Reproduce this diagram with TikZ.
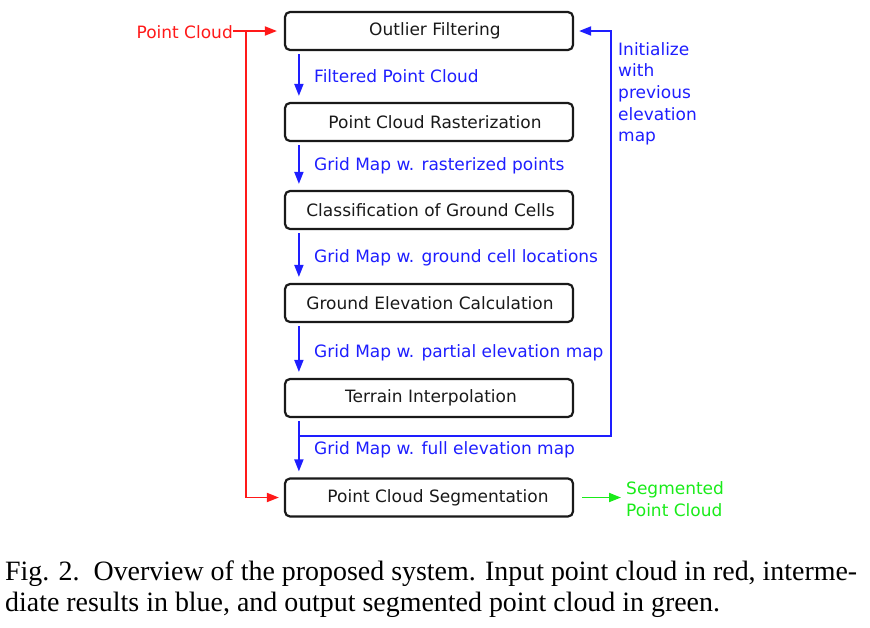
\documentclass[tikz,border=0pt]{standalone}
\usepackage{fontspec}
\setmainfont{DejaVu Sans}
\newfontfamily\capfont{Liberation Serif}
\usetikzlibrary{calc,arrows.meta}
\definecolor{cred}{RGB}{255,25,25}
\definecolor{cblue}{RGB}{30,30,255}
\definecolor{cgreen}{RGB}{25,235,25}
\definecolor{cbox}{RGB}{25,25,25}
\newcommand\capone{Fig. 2.\ \ Overview of the proposed system. Input point cloud in red, interme-}
\newcommand\captwo{diate results in blue, and output segmented point cloud in green.}
\newsavebox\capboxone
\newsavebox\capboxtwo
\AtBeginDocument{%
  \sbox\capboxone{\capfont\fontsize{28}{31}\selectfont\capone}%
  \sbox\capboxtwo{\capfont\fontsize{28}{31}\selectfont\captwo}%
  \pgfmathsetmacro{\capsx}{852/\wd\capboxone}%
}
\tikzset{
  stepbox/.style={draw=cbox, line width=2.2pt, rounded corners=5pt,
    minimum width=288pt, minimum height=38pt, inner sep=0pt, text=cbox,
    font=\fontsize{17}{20}\selectfont},
  lbl/.style={inner sep=0pt, anchor=west, font=\fontsize{17}{21.7}\selectfont},
  tipb/.style={-{Triangle[length=12pt,width=9pt]}},
  flowline/.style={line width=1.8pt},
}
\begin{document}
\begin{tikzpicture}[x=1pt,y=-1pt]
\useasboundingbox (0,0) rectangle (870,627);
% boxes
\node[stepbox] (b1) at (429,31) {\hspace*{12pt}Outlier Filtering};
\node[stepbox] (b2) at (429,122) {\hspace*{12pt}Point Cloud Rasterization};
\node[stepbox] (b3) at (429,210) {\hspace*{3pt}Classification of Ground Cells};
\node[stepbox] (b4) at (429,303) {\hspace*{2pt}Ground Elevation Calculation};
\node[stepbox] (b5) at (429,398) {\hspace*{4pt}Terrain Interpolation};
\node[stepbox] (b6) at (429,497.5) {\hspace*{18pt}Point Cloud Segmentation};
% blue intermediate arrows
\foreach \a/\b in {b1/b2,b2/b3,b3/b4,b4/b5,b5/b6}{
  \draw[cblue,flowline,tipb] ($(\a.south west)+(15,3)$) -- ($(\b.north west)+(15,-6)$);
}
\node[lbl,text=cblue] (l1) at (314,76) {Filtered Point Cloud};
\node[lbl,text=cblue] (l2) at (314,166) {Grid Map w. rasterized points};
\node[lbl,text=cblue] (l3) at (314,258) {Grid Map w. ground cell locations};
\node[lbl,text=cblue] (l4) at (314,353) {Grid Map w. partial elevation map};
\node[lbl,text=cblue] (l5) at (314,450) {Grid Map w. full elevation map};
% feedback
\coordinate (fb) at ($(b5.south west)+(15,18)$);
\draw[cblue,flowline,tipb] (fb) -- ++(312,0) |- ($(b1.east)+(5,0)$);
\node[lbl,text=cblue,align=left,anchor=north west] (init) at (618,42)
  {Initialize\\with\\previous\\elevation\\map};
% red input
\node[lbl,text=cred,anchor=east] (pc) at (233,32) {Point Cloud};
\coordinate (rj) at (246,31);
\draw[cred,flowline,tipb] (pc.east|-b1.west) -- ($(b1.west)+(-7,0)$);
\draw[cred,flowline,tipb] (rj) |- ($(b6.west)+(-5,0)$);
% green output
\node[lbl,text=cgreen,align=left] (seg) at (626,499) {Segmented\\Point Cloud};
\draw[cgreen,flowline,tipb] ($(b6.east)+(8,0)$) -- ($(seg.west)+(-5,-1.5)$);
% caption
\node[inner sep=0pt,anchor=base west] (cap1) at (5,580.7)
  {\scalebox{\capsx}[1]{\usebox\capboxone}};
\node[inner sep=0pt,anchor=base west] (cap2) at (5,611.7)
  {\scalebox{\capsx}[1]{\usebox\capboxtwo}};
\end{tikzpicture}
\end{document}
